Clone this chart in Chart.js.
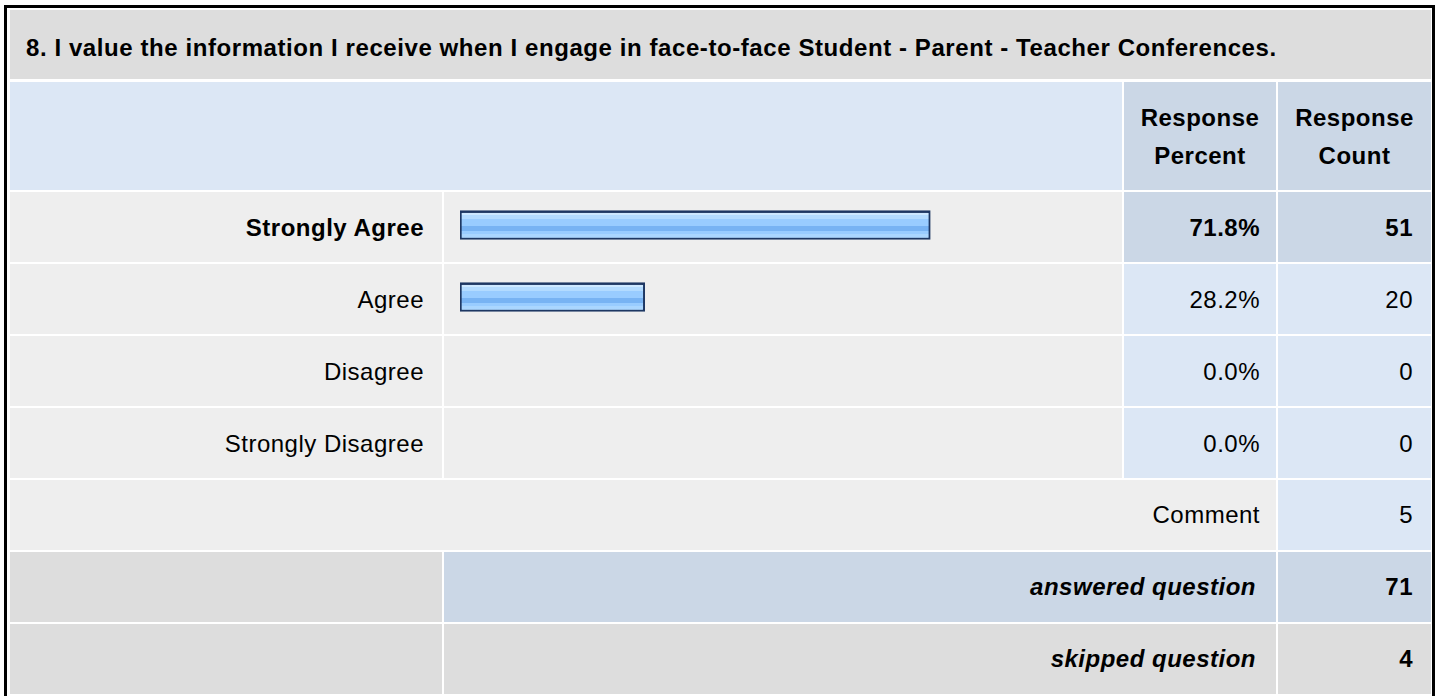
<!DOCTYPE html>
<html>
<head>
<meta charset="utf-8">
<script src="https://cdn.jsdelivr.net/npm/chart.js@4/dist/chart.umd.min.js"></script>
<style>
  html, body { margin: 0; padding: 0; background: #fff; width: 1440px; height: 696px; overflow: hidden; }
  #frame { position: absolute; left: 4px; top: 5px; width: 1425px; height: 700px; border: 3px solid #000; border-bottom: none; }
  .cell { position: absolute; box-sizing: border-box; display: flex; align-items: center;
          font-family: "Liberation Sans", Arial, sans-serif; font-size: 24px; letter-spacing: 0.5px; color: #000; white-space: nowrap; }
  .r { justify-content: flex-end; }
  .c { justify-content: center; text-align: center; }
  .b { font-weight: bold; }
  .i { font-style: italic; }
  #barCanvas { position: absolute; left: 444px; top: 189px; z-index: 5; pointer-events: none; }
</style>
</head>
<body>
<div id="frame"></div>
<div id="table"></div>
<canvas id="barCanvas" width="678" height="288"></canvas>
<script>
// ---- data ----
const questionTitle = "8. I value the information I receive when I engage in face-to-face Student - Parent - Teacher Conferences.";
const headerPercent = ["Response", "Percent"];
const headerCount = ["Response", "Count"];
const categories = ["Strongly Agree", "Agree", "Disagree", "Strongly Disagree"];
const percents = [71.8, 28.2, 0.0, 0.0];
const counts = [51, 20, 0, 0];
const commentLabel = "Comment";
const commentCount = 5;
const answeredLabel = "answered question";
const answeredCount = 71;
const skippedLabel = "skipped question";
const skippedCount = 4;

// ---- layout ----
const X = [10, 442, 444, 1122, 1124, 1276, 1278, 1431];
const C = { title: '#dddddd', hdrBlue: '#dce7f5', hdrDark: '#cbd7e6', grey: '#eeeeee', light: '#dce7f5', dark: '#cbd7e6', skip: '#dddddd' };
const table = document.getElementById('table');
function cell(x0, x1, y0, y1, bg, html, cls, style) {
  const d = document.createElement('div');
  d.className = 'cell ' + (cls || '');
  d.style.left = x0 + 'px'; d.style.top = y0 + 'px';
  d.style.width = (x1 - x0) + 'px'; d.style.height = (y1 - y0) + 'px';
  d.style.background = bg;
  if (style) Object.assign(d.style, style);
  d.innerHTML = html || '';
  table.appendChild(d);
  return d;
}
// title
cell(X[0], X[7], 10, 79, C.title, questionTitle, 'b', { paddingLeft: '16px', paddingTop: '7px', letterSpacing: '0.58px' });
// header
cell(X[0], X[3], 82, 190, C.hdrBlue, '');
cell(X[4], X[5], 82, 190, C.hdrDark, headerPercent.join('<br>'), 'b c', { lineHeight: '38px', paddingTop: '2px' });
cell(X[6], X[7], 82, 190, C.hdrDark, headerCount.join('<br>'), 'b c', { lineHeight: '38px', paddingTop: '2px' });
// answer rows
const maxIdx = counts.indexOf(Math.max(...counts));
categories.forEach((cat, i) => {
  const y0 = 192 + i * 72, y1 = y0 + 70;
  const hi = i === maxIdx;
  const bcls = hi ? 'b r' : 'r';
  cell(X[0], X[1], y0, y1, C.grey, cat, bcls, { paddingRight: '18px', paddingTop: '1px' });
  cell(X[2], X[3], y0, y1, C.grey, '');
  cell(X[4], X[5], y0, y1, hi ? C.dark : C.light, percents[i].toFixed(1) + '%', bcls, { paddingRight: '16px', paddingTop: '1px' });
  cell(X[6], X[7], y0, y1, hi ? C.dark : C.light, String(counts[i]), bcls, { paddingRight: '18px', paddingTop: '1px' });
});
// comment row
cell(X[0], X[5], 480, 550, C.grey, commentLabel, 'r', { paddingRight: '16px' });
cell(X[6], X[7], 480, 550, C.light, String(commentCount), 'r', { paddingRight: '18px' });
// answered
cell(X[0], X[1], 552, 622, C.skip, '');
cell(X[2], X[5], 552, 622, C.dark, answeredLabel, 'b i r', { paddingRight: '20px' });
cell(X[6], X[7], 552, 622, C.dark, String(answeredCount), 'b r', { paddingRight: '18px' });
// skipped
cell(X[0], X[1], 624, 694, C.skip, '');
cell(X[2], X[5], 624, 694, C.skip, skippedLabel, 'b i r', { paddingRight: '20px' });
cell(X[6], X[7], 624, 694, C.skip, String(skippedCount), 'b r', { paddingRight: '18px' });

// ---- bars with Chart.js ----
const BAR_H = 29;
function barFill(c) {
  const chart = c.chart;
  if (c.type === 'data' && !(c.raw > 0)) return 'rgba(0,0,0,0)';
  const ya = chart.scales && chart.scales.y;
  if (!ya || !chart.chartArea || c.type !== 'data') return '#99ccff';
  const yc = ya.getPixelForValue(c.dataIndex);
  const t = yc - BAR_H / 2, b = yc + BAR_H / 2;
  const g = chart.ctx.createLinearGradient(0, t, 0, b);
  const stops = [
    [0.00, '#1d3763'], [0.07, '#1d3763'],
    [0.07, '#cde8ff'], [0.16, '#cde8ff'],
    [0.16, '#b3dbff'], [0.30, '#b3dbff'],
    [0.30, '#99ccff'], [0.55, '#99ccff'],
    [0.55, '#78b3f3'], [0.72, '#78b3f3'],
    [0.72, '#99ccff'], [0.82, '#99ccff'],
    [0.82, '#aad6ff'], [1.00, '#aad6ff']
  ];
  stops.forEach(s => g.addColorStop(s[0], s[1]));
  return g;
}
new Chart(document.getElementById('barCanvas'), {
  type: 'bar',
  data: {
    labels: categories,
    datasets: [{
      data: percents,
      backgroundColor: barFill,
      borderColor: (c) => (c.raw > 0 ? '#1d3763' : 'rgba(0,0,0,0)'),
      borderWidth: (c) => (c.raw > 0 ? 2 : 0),
      borderSkipped: false,
      barThickness: BAR_H
    }]
  },
  options: {
    indexAxis: 'y',
    responsive: false,
    animation: false,
    devicePixelRatio: 1,
    layout: { padding: { left: 16, right: 7, top: 0, bottom: 0 } },
    plugins: { legend: { display: false }, tooltip: { enabled: false } },
    scales: {
      x: { display: false, min: 0, max: 100, grid: { display: false } },
      y: { display: false, grid: { display: false } }
    }
  }
});
</script>
</body>
</html>
